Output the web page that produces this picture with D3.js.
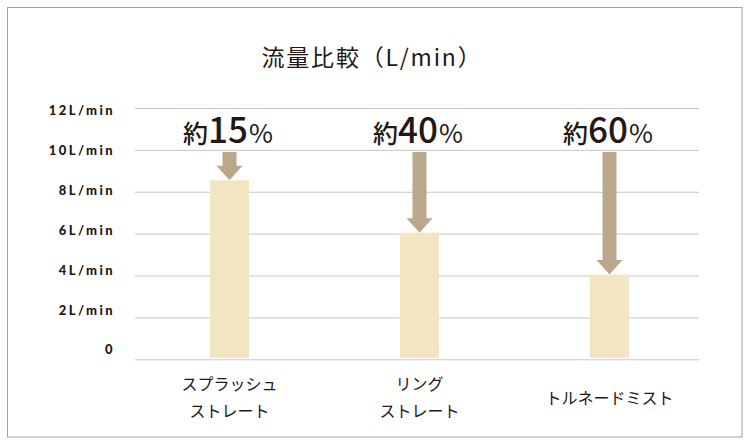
<!DOCTYPE html>
<html><head><meta charset="utf-8">
<script src="https://cdn.jsdelivr.net/npm/d3@7"></script>
<style>
body{margin:0;background:#fff}
svg{display:block}
</style>
</head><body>
<svg id="c" width="750" height="445"></svg>
<script>
// ---- data ----
const categoryKeys = ["スプラッシュストレート", "リングストレート", "トルネードミスト"];
const categoryLines = [["スプラッシュ", "ストレート"], ["リング", "ストレート"], ["トルネードミスト"]];
const flowValues = [8.5, 6, 4];
const reductionPercents = ["15", "40", "60"];
const referenceFlow = 10;
const yTicks = [0, 2, 4, 6, 8, 10, 12];
const yTickLabels = ["0", "2L/min", "4L/min", "6L/min", "8L/min", "10L/min", "12L/min"];
const chartTitle = "流量比較（L/min）";

// ---- layout ----
const plotLeft = 135, plotRight = 699, plotTop = 108, plotBottom = 359.3;
const barWidth = 39;
const textColor = "#231815";
const jp = "'Noto Sans CJK JP','Noto Sans',sans-serif";

const svg = d3.select("#c");

svg.append("rect")
  .attr("x", 7.5).attr("y", 7.5)
  .attr("width", 734.5).attr("height", 429.5)
  .attr("fill", "#fff").attr("stroke", "#a0a0a0").attr("stroke-width", 1);

const y = d3.scaleLinear().domain([0, 12]).range([plotBottom, plotTop]);
// tick labels in the original sit on a slightly tighter spacing than the gridlines
const yLabel = d3.scaleLinear().domain([0, 12]).range([349.7, 110.5]);
const x = d3.scalePoint().domain(categoryKeys).range([134.5, 704.5]).padding(0.5);

// title
svg.append("text")
  .attr("x", 372).attr("y", 66)
  .attr("text-anchor", "middle")
  .attr("font-family", jp).attr("font-size", 23).attr("font-weight", 400)
  .attr("letter-spacing", 1.8)
  .attr("fill", textColor)
  .text(chartTitle);

// gridlines
const yAxis = d3.axisLeft(y)
  .tickValues(yTicks)
  .tickFormat("")
  .tickSize(-(plotRight - plotLeft));

const gy = svg.append("g")
  .attr("transform", `translate(${plotLeft},0)`)
  .call(yAxis);
gy.select(".domain").remove();
gy.selectAll(".tick line").attr("stroke", "#c8c8c8").attr("stroke-width", 1);

// tick labels
svg.append("g").selectAll("text")
  .data(yTicks)
  .join("text")
  .attr("x", 115)
  .attr("y", (d) => yLabel(d))
  .attr("dy", "0.36em")
  .attr("text-anchor", "end")
  .attr("font-family", "Lato, 'DejaVu Sans', sans-serif")
  .attr("font-weight", 900)
  .attr("font-size", 13)
  .attr("letter-spacing", 2.4)
  .attr("fill", textColor)
  .text((d, i) => yTickLabels[i]);

// bars
svg.append("g").selectAll("rect")
  .data(categoryKeys)
  .join("rect")
  .attr("x", (d) => x(d) - barWidth / 2)
  .attr("y", (d, i) => y(flowValues[i]) - 1)
  .attr("width", barWidth)
  .attr("height", (d, i) => y(0) - y(flowValues[i]) - 0.5)
  .attr("fill", "#f3e5c1");

// arrows
const shaftW = 14, headW = 26, headH = 14.5;
svg.append("g").selectAll("path")
  .data(categoryKeys)
  .join("path")
  .attr("d", (d, i) => {
    const cx = x(d);
    const top = y(referenceFlow) + 2;
    const tip = y(flowValues[i]) - 1;
    const hs = tip - headH;
    const p = d3.path();
    p.moveTo(cx - shaftW / 2, top);
    p.lineTo(cx + shaftW / 2, top);
    p.lineTo(cx + shaftW / 2, hs);
    p.lineTo(cx + headW / 2, hs);
    p.lineTo(cx, tip);
    p.lineTo(cx - headW / 2, hs);
    p.lineTo(cx - shaftW / 2, hs);
    p.closePath();
    return p.toString();
  })
  .attr("fill", "#b9a88b");

// annotations
const ann = svg.append("g").selectAll("text")
  .data(categoryKeys)
  .join("text")
  .attr("x", (d) => x(d) - 1.5)
  .attr("y", 143)
  .attr("text-anchor", "middle")
  .attr("font-family", jp)
  .attr("fill", textColor);
ann.append("tspan").attr("font-size", 25).attr("font-weight", 500).text("約");
ann.append("tspan").attr("font-size", 35).attr("font-weight", 500).text((d, i) => reductionPercents[i]);
ann.append("tspan").attr("font-size", 26).attr("font-weight", 400).attr("dx", 1).text("%");

// x labels
const xl = svg.append("g").selectAll("text")
  .data(categoryKeys)
  .join("text")
  .attr("text-anchor", "middle")
  .attr("font-family", jp)
  .attr("font-size", 16)
  .attr("fill", textColor);
xl.each(function (d, i) {
  const lines = categoryLines[i];
  const t = d3.select(this);
  const baseY = lines.length === 1 ? 403.5 : 390;
  lines.forEach((ln, j) => {
    t.append("tspan").attr("x", x(d)).attr("y", baseY + j * 27).text(ln);
  });
});
</script>
</body></html>
